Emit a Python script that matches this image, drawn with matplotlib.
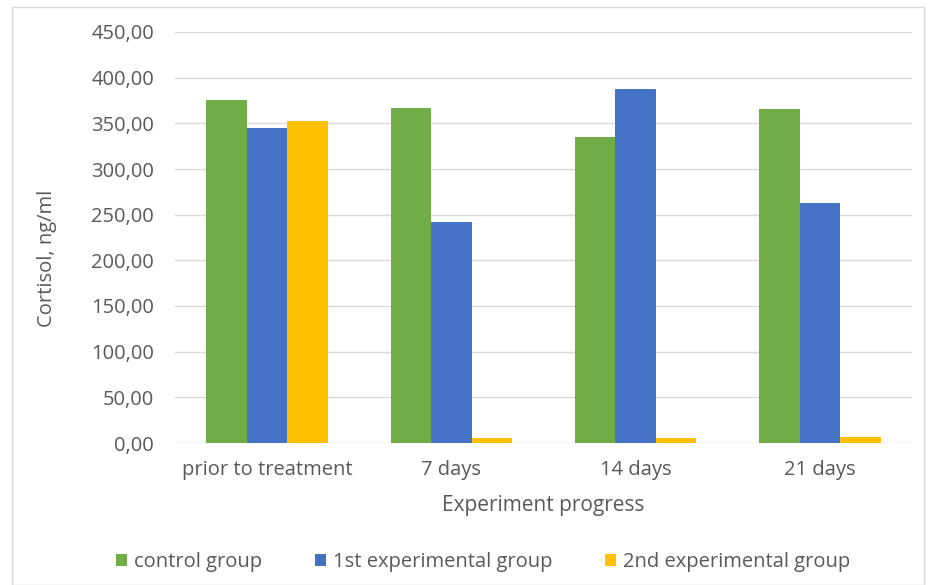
import matplotlib
matplotlib.use("Agg")
import matplotlib.pyplot as plt
import numpy as np
from matplotlib.patches import Rectangle

categories = ["prior to treatment", "7 days", "14 days", "21 days"]
series_names = ["control group", "1st experimental group", "2nd experimental group"]
control = [375.5, 366.5, 335.0, 365.5]
exp1 = [345.0, 242.0, 387.5, 263.0]
exp2 = [352.5, 5.0, 5.0, 7.0]
colors = ["#70ad47", "#4472c4", "#ffc000"]
yticks = [0, 50, 100, 150, 200, 250, 300, 350, 400, 450]

plt.rcParams["font.family"] = ["Open Sans", "DejaVu Sans"]
text_color = "#595959"

fig = plt.figure(figsize=(9.36, 5.85), dpi=100)
ax = fig.add_axes([175 / 936, 1 - 443 / 585, (912 - 175) / 936, (443 - 32) / 585])

# chart frame
fig.patches.append(Rectangle((12 / 936, 0), (924 - 12) / 936, 1 - 7 / 585,
                             transform=fig.transFigure, fill=False,
                             edgecolor="#d9d9d9", linewidth=1))

x = np.arange(len(categories))
w = 0.22
for i, (vals, name) in enumerate(zip([control, exp1, exp2], series_names)):
    ax.bar(x + (i - 1) * w, vals, width=w, color=colors[i], label=name, zorder=3)

ax.set_xlim(-0.5, len(categories) - 0.5)
ax.set_ylim(0, 450)
ax.set_yticks(yticks)
ax.set_yticklabels([f"{v:.2f}".replace(".", ",") for v in yticks])
ax.set_xticks(x)
ax.set_xticklabels(categories)
ax.grid(axis="y", color="#d9d9d9", linewidth=1, zorder=0)
for s in ax.spines.values():
    s.set_visible(False)
ax.tick_params(length=0, labelsize=14.5, colors=text_color)
ax.tick_params(axis="y", pad=15)
ax.tick_params(axis="x", pad=12)

ax.set_xlabel("Experiment progress", fontsize=15, color=text_color, labelpad=11)
ax.set_ylabel("Cortisol, ng/ml", fontsize=14.5, color=text_color)
ax.yaxis.set_label_coords(-0.16, 0.45)

leg = fig.legend(loc="center", bbox_to_anchor=(483 / 936, 1 - 562 / 585), ncol=3,
                 frameon=False, fontsize=14.5, handlelength=0.55, handleheight=0.55,
                 columnspacing=2.6, handletextpad=0.35)
for t in leg.get_texts():
    t.set_color(text_color)

fig.savefig("out.png", dpi=100, facecolor="white")
